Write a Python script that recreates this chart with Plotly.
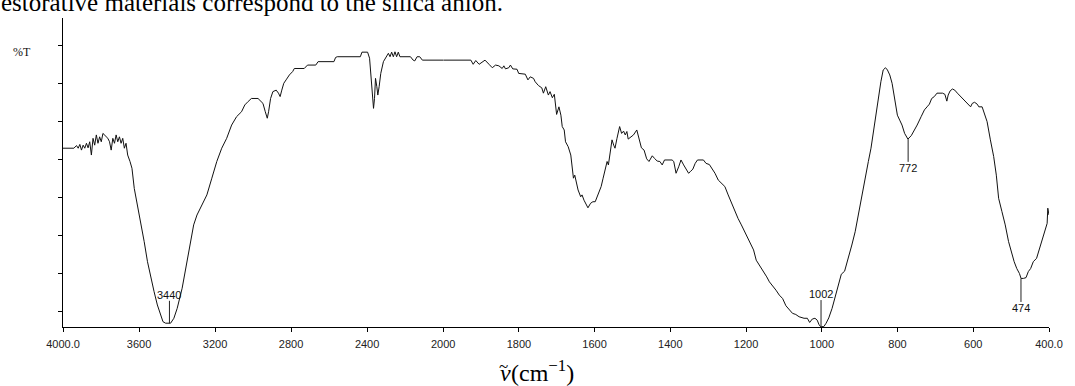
import plotly.graph_objects as go

# ---------------- data ----------------
# 4000 -> 2000 cm-1 segment (compressed scale)
wn_hi = [4000, 3942.7, 3928.8, 3920.1, 3911.4, 3902.8, 3894.1, 3885.4, 3876.7, 3868.0,
         3859.4, 3850.7, 3842.0, 3833.3, 3824.6, 3816.0, 3807.3, 3798.6, 3789.9, 3781.2,
         3772.5, 3763.9, 3755.2, 3746.5, 3737.8, 3729.1, 3720.5, 3711.8, 3703.1, 3694.4,
         3685.7, 3677.1, 3668.4, 3659.7, 3647.5, 3637.1, 3625.0, 3607.6, 3590.3, 3572.9,
         3555.5, 3538.2, 3520.8, 3503.5, 3486.1, 3474.0, 3460.1, 3434.0, 3416.7, 3399.3,
         3373.2, 3347.2, 3329.9, 3312.5, 3295.1, 3269.1, 3243.0, 3217.0, 3190.9, 3164.9,
         3138.9, 3112.8, 3086.8, 3060.7, 3043.4, 3026.0, 3008.7, 2973.9, 2956.6, 2947.9,
         2935.7, 2925.3, 2918.4, 2907.9, 2895.8, 2878.4, 2866.3, 2857.6, 2848.9, 2838.5,
         2826.3, 2809.0, 2791.6, 2782.9, 2730.9, 2713.5, 2670.1, 2657.9, 2574.6, 2565.9,
         2557.3, 2435.7, 2427.1, 2397.5, 2387.1, 2380.2, 2373.2, 2366.3, 2361.1, 2355.9,
         2348.9, 2343.7, 2336.8, 2328.1, 2314.2, 2300.3, 2288.2, 2279.5, 2270.8, 2262.1,
         2253.4, 2244.8, 2236.1, 2227.4, 2171.8, 2157.9, 2149.3, 2137.1, 2123.2, 2109.3,
         2000]
t_hi = [53.0, 53.0, 53.7, 53.0, 54.0, 52.5, 53.8, 53.0, 54.3, 53.1,
        54.7, 51.2, 55.6, 53.8, 56.5, 54.3, 56.0, 54.7, 56.9, 56.5,
        56.0, 55.6, 54.7, 52.5, 55.6, 54.3, 56.5, 54.7, 56.0, 54.3,
        55.6, 53.0, 54.3, 51.2, 49.5, 47.7, 42.4, 38.0, 32.8, 28.4,
        23.1, 18.7, 15.2, 11.7, 9.0, 7.3, 6.9, 6.9, 8.2, 10.8,
        16.1, 23.1, 28.4, 32.8, 35.4, 38.0, 40.7, 45.1, 49.5, 53.0,
        55.6, 59.1, 61.3, 62.6, 64.4, 65.3, 66.1, 66.1, 65.1, 64.8,
        62.6, 60.9, 62.6, 66.1, 67.9, 68.3, 67.5, 66.6, 68.3, 70.1,
        71.0, 72.3, 73.2, 74.0, 74.0, 74.9, 74.9, 75.8, 75.8, 76.9,
        77.1, 77.1, 78.3, 78.3, 76.7, 72.3, 67.0, 63.5, 66.1, 71.4,
        69.2, 67.0, 69.2, 72.7, 75.8, 77.1, 78.0, 77.1, 78.3, 77.1,
        78.4, 77.1, 78.3, 77.1, 77.1, 76.2, 76.0, 77.1, 77.1, 76.2,
        76.2]

# 2000 -> 400 cm-1 segment (expanded scale)
wn_lo = [2000, 1926.8, 1920.7, 1913.8, 1905.0, 1896.3, 1889.4, 1878.9, 1870.2, 1861.5,
         1852.8, 1844.1, 1839.7, 1835.4, 1826.6, 1822.3, 1816.2, 1804.9, 1800.5, 1783.1,
         1776.1, 1770.0, 1761.3, 1756.9, 1748.2, 1739.5, 1735.2, 1729.1, 1722.1, 1717.7,
         1711.6, 1706.4, 1702.9, 1700.3, 1694.2, 1689.0, 1685.5, 1680.3, 1676.8, 1669.8,
         1662.9, 1659.4, 1655.9, 1652.4, 1648.1, 1643.7, 1636.7, 1633.2, 1628.0, 1621.9,
         1617.6, 1610.6, 1604.5, 1598.4, 1591.4, 1582.7, 1577.5, 1572.3, 1567.0, 1563.6,
         1558.3, 1554.0, 1549.6, 1546.1, 1540.9, 1537.4, 1533.9, 1528.7, 1523.5, 1519.1,
         1514.8, 1511.3, 1504.3, 1497.3, 1488.6, 1482.5, 1476.4, 1469.4, 1462.5, 1456.4,
         1447.7, 1441.6, 1434.6, 1427.6, 1421.5, 1415.4, 1395.4, 1391.0, 1384.9, 1378.0,
         1371.9, 1364.9, 1358.0, 1351.8, 1347.5, 1340.5, 1334.4, 1328.3, 1312.6, 1305.7,
         1297.0, 1290.8, 1282.1, 1273.4, 1264.7, 1256.0, 1247.3, 1238.6, 1229.9, 1221.2,
         1212.4, 1203.7, 1195.0, 1186.3, 1180.2, 1173.2, 1164.5, 1155.8, 1145.4, 1138.4,
         1131.4, 1121.0, 1112.2, 1103.5, 1094.8, 1086.1, 1077.4, 1068.7, 1060.0, 1046.9,
         1038.2, 1032.1, 1025.1, 1018.1, 1012.1, 1007.7, 1003.4, 1000.8, 994.7, 988.6,
         981.6, 972.9, 964.2, 955.5, 948.5, 939.8, 933.7, 927.6, 920.7, 911.9,
         903.2, 894.5, 885.8, 877.1, 870.1, 864.0, 857.9, 851.0, 844.0, 837.9,
         831.8, 826.6, 820.5, 814.4, 807.4, 800.4, 794.3, 788.2, 781.3, 772.6,
         763.8, 756.9, 748.2, 737.7, 729.0, 722.0, 715.9, 709.8, 702.9, 695.9,
         681.1, 675.0, 669.8, 666.3, 661.1, 655.0, 648.9, 641.9, 633.2, 626.2,
         620.1, 614.0, 607.0, 602.7, 596.6, 589.6, 585.3, 576.6, 572.2, 563.5,
         554.8, 546.1, 539.1, 533.0, 524.3, 515.6, 506.8, 498.1, 492.0, 485.1,
         478.1, 473.8, 467.6, 460.7, 454.6, 448.5, 441.5, 432.8, 425.8, 419.7,
         413.6, 408.4, 404.9, 403.2, 401.4, 400]
t_lo = [76.2, 76.2, 75.1, 76.1, 75.1, 75.8, 76.2, 75.1, 74.2, 74.9,
        74.7, 74.0, 74.7, 73.9, 74.2, 74.9, 73.9, 73.8, 72.7, 72.5,
        71.0, 71.8, 71.4, 70.5, 69.5, 68.9, 67.5, 69.2, 67.0, 67.9,
        66.3, 67.2, 64.4, 61.9, 63.9, 61.7, 58.7, 57.8, 54.7, 53.4,
        51.2, 47.7, 45.1, 45.9, 44.2, 42.0, 40.2, 40.7, 39.3, 38.0,
        37.3, 38.5, 38.9, 38.9, 40.7, 42.9, 45.1, 47.7, 49.5, 48.6,
        53.0, 55.2, 53.8, 53.0, 55.6, 57.4, 58.7, 56.9, 57.5, 56.5,
        57.4, 55.4, 56.0, 56.5, 57.8, 55.6, 53.1, 52.5, 50.2, 49.5,
        51.0, 50.3, 49.6, 49.5, 48.6, 49.9, 49.9, 49.5, 46.4, 48.1,
        49.9, 48.6, 47.3, 46.4, 46.8, 47.5, 49.0, 49.9, 49.9, 49.0,
        48.7, 47.7, 46.4, 44.6, 43.7, 42.9, 40.7, 38.5, 36.7, 34.5,
        32.8, 31.0, 29.3, 27.5, 26.2, 23.5, 22.2, 20.9, 19.1, 17.8,
        17.0, 15.6, 14.3, 13.4, 11.5, 10.4, 9.5, 9.2, 8.6, 8.2,
        8.2, 7.1, 8.0, 8.2, 7.7, 6.6, 6.0, 6.0, 6.0, 6.9,
        8.3, 10.8, 14.3, 17.8, 19.8, 20.6, 22.7, 24.9, 27.5, 31.0,
        35.8, 40.7, 45.1, 49.5, 53.0, 57.4, 61.7, 66.1, 70.5, 73.6,
        74.2, 73.6, 72.3, 70.1, 66.1, 61.7, 60.4, 59.1, 56.9, 55.4,
        56.3, 57.5, 59.1, 61.3, 63.1, 63.9, 64.6, 66.1, 66.6, 67.5,
        67.5, 67.2, 65.4, 67.0, 68.1, 68.6, 68.3, 67.5, 66.6, 65.7,
        65.1, 64.4, 63.9, 64.8, 65.1, 64.6, 63.9, 63.9, 62.6, 60.0,
        55.2, 50.8, 45.9, 39.8, 36.3, 32.8, 28.4, 24.9, 23.1, 21.3,
        20.0, 18.7, 18.7, 18.9, 20.5, 21.3, 23.1, 24.0, 26.2, 28.4,
        30.1, 31.9, 33.2, 37.2, 36.3, 35.4]

# tick labels
hi_tickvals = [4000, 3600, 3200, 2800, 2400]
hi_ticktext = ["4000.0", "3600", "3200", "2800", "2400"]
lo_tickvals = [2000, 1800, 1600, 1400, 1200, 1000, 800, 600, 400]
lo_ticktext = ["2000", "1800", "1600", "1400", "1200", "1000", "800", "600", "400.0"]
y_tickvals = [10, 20, 30, 40, 50, 60, 70, 80]

# peak markers
peak_wn = [3440, 1002, 772, 474]
peak_labels = ["3440", "1002", "772", "474"]
peak_tip_t = [6.9, 5.9, 55.4, 18.7]
peak_end_t = [12.8, 13.0, 49.4, 12.5]

caption = "estorative materials correspond to the silica anion."

# ---------------- figure ----------------
W, H = 1075, 386
ML, MR, MT, MB = 63, 16, 18, 59
plot_w = W - ML - MR
plot_h = H - MT - MB
split = 384 / plot_w   # 4000-2000 segment occupies 384 px


def px_x(p):
    return (p - ML) / plot_w


def px_y(p):
    return (H - MB - p) / plot_h


line_style = dict(color="#111111", width=1)
fig = go.Figure()
fig.add_trace(go.Scatter(x=wn_hi, y=t_hi, xaxis="x", yaxis="y", mode="lines",
                         line=line_style, showlegend=False, hoverinfo="skip"))
fig.add_trace(go.Scatter(x=wn_lo, y=t_lo, xaxis="x2", yaxis="y", mode="lines",
                         line=line_style, showlegend=False, hoverinfo="skip"))

tick_font = dict(family="Liberation Sans Narrow, Arial Narrow, Liberation Sans, sans-serif",
                 size=11, color="#222222")
axis_common = dict(showline=True, linecolor="#000000", linewidth=1, ticks="outside",
                   ticklen=4, tickwidth=1, tickcolor="#000000", showgrid=False,
                   zeroline=False, tickfont=tick_font, anchor="y", fixedrange=True,
                   ticklabelstandoff=3)

fig.update_layout(
    width=W, height=H, autosize=False,
    margin=dict(l=ML, r=MR, t=MT, b=MB, pad=0),
    paper_bgcolor="white", plot_bgcolor="white",
    xaxis=dict(domain=[0, split], range=[4000, 2000], tickmode="array",
               tickvals=hi_tickvals, ticktext=hi_ticktext, **axis_common),
    xaxis2=dict(domain=[split, 1], range=[2000, 400], tickmode="array",
                tickvals=lo_tickvals, ticktext=lo_ticktext, **axis_common),
    yaxis=dict(domain=[0, 1], range=[5.9, 87.3], tickmode="array", tickvals=y_tickvals,
               showticklabels=False, showline=True, linecolor="#000000", linewidth=1,
               ticks="outside", ticklen=4, tickcolor="#000000", showgrid=False,
               zeroline=False, anchor="x", fixedrange=True),
)

label_font = dict(family="Liberation Sans Narrow, Arial Narrow, Liberation Sans, sans-serif",
                  size=11, color="#111111")
serif = "Liberation Serif, Times New Roman, serif"
shapes = []
annotations = []
for wn, lab, tip, end in zip(peak_wn, peak_labels, peak_tip_t, peak_end_t):
    xr = "x" if wn > 2000 else "x2"
    shapes.append(dict(type="line", xref=xr, yref="y", x0=wn, x1=wn, y0=tip, y1=end,
                       line=dict(color="#222222", width=1)))
    above = end > tip
    annotations.append(dict(xref=xr, yref="y", x=wn, y=end, text=lab, showarrow=False,
                            xanchor="center", yanchor="bottom" if above else "top",
                            font=label_font, borderpad=0, yshift=-1 if above else 1))

# y-axis caption
annotations.append(dict(xref="paper", yref="paper", x=px_x(22), y=px_y(52), text="%T",
                        showarrow=False, xanchor="center", yanchor="middle",
                        font=dict(family=serif, size=12, color="#111111")))
# x-axis title: nu with tilde, then (cm^-1)
annotations.append(dict(xref="paper", yref="paper", x=px_x(516), y=px_y(386),
                        text="<i>\u03bd</i>", showarrow=False, xanchor="right",
                        yanchor="bottom", borderpad=0, borderwidth=0,
                        font=dict(family=serif, size=24, color="#000000")))
annotations.append(dict(xref="paper", yref="paper", x=px_x(516), y=px_y(386),
                        text="(cm<sup>\u22121</sup>)", showarrow=False, xanchor="left",
                        yanchor="bottom", borderpad=0, borderwidth=0,
                        font=dict(family=serif, size=24, color="#000000")))
annotations.append(dict(xref="paper", yref="paper", x=px_x(508), y=px_y(366),
                        text="~", showarrow=False, xanchor="center", yanchor="middle",
                        borderpad=0, borderwidth=0,
                        font=dict(family=serif, size=17, color="#000000")))
# clipped caption of the source page
annotations.append(dict(xref="paper", yref="paper", x=px_x(0), y=px_y(16), text=caption,
                        showarrow=False, xanchor="left", yanchor="bottom", borderpad=0,
                        borderwidth=0, font=dict(family=serif, size=25, color="#000000")))

fig.update_layout(shapes=shapes, annotations=annotations)
fig.write_html("out.html")
